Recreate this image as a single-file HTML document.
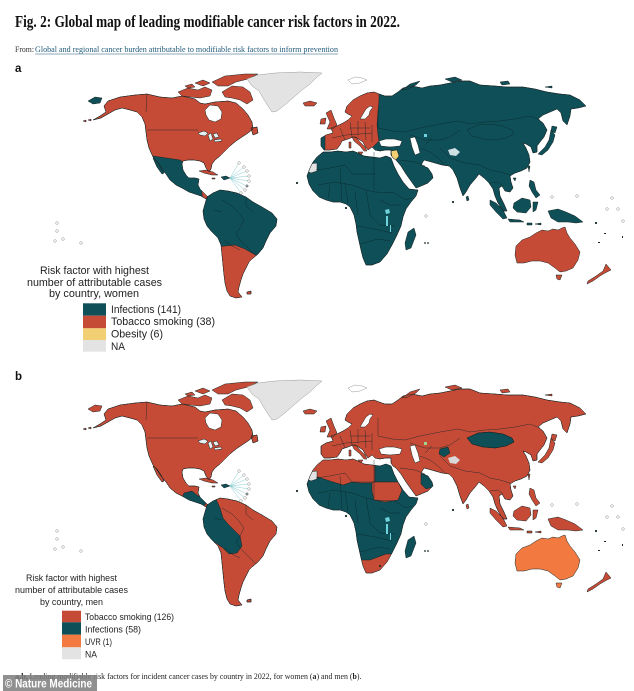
<!DOCTYPE html>
<html><head><meta charset="utf-8"><style>
html,body{margin:0;padding:0;background:#fff;}
svg{display:block;}
</style></head><body>
<svg width="634" height="691" viewBox="0 0 634 691" xmlns="http://www.w3.org/2000/svg" xmlns:xlink="http://www.w3.org/1999/xlink">
<defs>
<path id="NA" d="M93,120 L100,116 L106,112 L104,106 L108,101 L120,97 L135,95 L147,94 L160,97 L172,98 L182,96 L195,99 L200,103 L205,104 L215,102 L228,101 L236,103 L243,109 L248,115 L252,122 L253,129 L248,133 L242,137 L236,141 L230,146 L225,151 L220,156 L215,160 L212,164 L211,169 L209,172 L206,168 L204,163 L200,161 L194,160 L188,160 L183,161 L182,164 L183,170 L186,175 L189,178 L195,178 L199,179 L198,185 L200,189 L204,193 L208,197 L206,199 L201,196 L195,194 L189,192 L182,188 L176,185 L170,180 L166,174 L161,168 L157,162 L153,157 L149,148 L147,140 L146,132 L145,124 L142,117 L137,112 L130,110 L122,108 L115,110 L108,114 L101,118 Z M153,158 L157,161 L161,167 L164,173 L162,174 L157,167 Z M251,128 L257,127 L258,133 L253,135 Z"/>
<path id="ARC" d="M178,92 L188,88 L198,90 L205,87 L212,90 L210,96 L200,98 L190,97 L182,96 Z M212,82 L225,76 L245,74 L258,74 L248,79 L236,82 L228,86 L218,86 Z M222,92 L232,86 L243,87 L250,92 L253,100 L247,104 L240,100 L232,98 L225,97 Z M195,83 L203,80 L210,83 L203,86 Z M185,86 L192,84 L195,87 L188,88 Z M83,121 L86,120 L86,122 Z M88,120 L91,119 L91,121 Z"/>
<path id="GRL" d="M247,79 L258,75 L275,73 L300,72 L322,73 L316,78 L310,84 L302,90 L294,97 L286,104 L277,111 L272,112 L268,106 L263,98 L259,91 L252,86 Z"/>
<path id="ICE" d="M303,103 L310,101 L317,103 L314,106 L305,106 Z"/>
<path id="CHU" d="M88,101 L95,97 L102,98 L100,103 L93,104 Z"/>
<path id="SA" d="M207,197 L213,193 L220,190 L228,191 L237,193 L246,197 L253,202 L262,207 L272,213 L277,219 L276,226 L270,233 L266,241 L263,248 L258,254 L252,259 L249,262 L246,268 L243,274 L241,280 L239,287 L238,292 L242,297 L236,298 L230,296 L227,291 L225,283 L224,275 L223,265 L222,255 L221,245 L218,238 L212,232 L207,226 L204,219 L203,211 L205,204 Z M247,292 L251,291 L251,294 L247,294 Z"/>
<path id="EA" d="M321,138 L326,135 L333,133 L331,128 L337,126 L343,123 L348,120 L352,116 L348,114 L345,112 L347,106 L353,100 L360,96 L367,93 L374,92 L379,94 L385,96 L392,96 L398,92 L403,88 L412,86 L422,88 L430,86 L440,85 L450,83 L460,81 L470,81 L480,85 L495,86 L507,87 L523,87 L535,89 L547,92 L560,94 L570,95 L580,100 L586,106 L578,108 L571,109 L570,116 L567,125 L563,121 L561,113 L557,109 L550,112 L543,115 L538,119 L543,123 L547,130 L544,137 L540,142 L537,146 L537,152 L533,153 L531,147 L526,144 L523,143 L526,148 L529,155 L530,162 L527,168 L521,171 L515,173 L510,176 L511,182 L513,188 L510,192 L505,191 L502,186 L499,188 L500,196 L504,204 L507,211 L503,211 L498,203 L495,196 L493,189 L489,183 L484,178 L479,174 L476,178 L470,185 L466,192 L463,196 L460,188 L457,178 L453,170 L449,166 L442,165 L435,163 L428,161 L424,160 L421,165 L428,168 L432,174 L433,178 L428,183 L421,186 L416,188 L411,181 L406,174 L401,166 L396,160 L393,158 L391,155 L391,150 L386,150 L380,151 L375,150 L372,147 L368,150 L365,146 L363,142 L357,138 L353,137 L348,139 L342,141 L340,145 L337,149 L330,150 L324,150 L321,146 Z"/>
<path id="ITA" d="M352,137 L356,137 L360,142 L365,147 L367,151 L364,151 L360,146 L354,141 Z M358,152 L363,152 L361,155 Z M349,142 L351,142 L351,148 L349,148 Z"/>
<path id="UK" d="M326,113 L331,110 L334,118 L337,125 L333,129 L327,129 L330,122 Z M321,119 L326,118 L325,124 L320,124 Z"/>
<path id="AF" d="M317,157 L323,152 L330,152 L338,151 L346,152 L353,151 L358,153 L364,156 L372,157 L380,158 L386,156 L391,158 L394,166 L398,174 L403,182 L409,189 L418,190 L416,196 L411,202 L406,209 L403,217 L401,226 L397,235 L392,245 L387,254 L380,262 L372,265 L366,265 L363,258 L361,250 L359,241 L357,232 L356,224 L354,215 L350,207 L346,204 L340,202 L333,202 L326,200 L319,197 L313,191 L309,184 L307,176 L310,168 L313,162 Z"/>
<path id="MAD" d="M408,232 L414,228 L416,235 L411,248 L406,250 L405,243 Z"/>
<path id="ISL" d="M551,130 L555,135 L553,142 L548,150 L542,155 L538,154 L545,147 L549,140 Z M552,126 L557,127 L555,133 L551,131 Z M466,197 L468,196 L469,200 L467,201 Z M528,166 L530,166 L529,172 Z M513,178 L516,178 L515,181 Z M530,180 L534,182 L536,190 L540,195 L536,198 L532,192 L529,186 Z M490,200 L496,203 L503,210 L507,218 L503,219 L496,212 L490,205 Z M508,219 L520,220 L524,222 L510,222 Z M514,203 L522,198 L530,200 L531,207 L526,213 L517,212 L513,208 Z M533,202 L538,202 L536,210 L533,212 Z M548,211 L558,209 L566,212 L575,216 L583,222 L576,223 L568,222 L558,222 L551,218 Z M527,223 L532,223 L532,225 L527,225 Z M535,224 L541,223 L541,225 Z M402,90 L410,84 L420,81 L416,85 L408,89 Z M445,79 L455,77 L462,80 L452,82 Z M500,82 L508,81 L510,84 L502,85 Z M545,87 L552,86 L552,88 Z"/>
<path id="AUS" d="M516,246 L522,240 L530,237 L536,233 L542,230 L548,231 L553,229 L558,230 L562,228 L565,227 L567,233 L570,238 L575,244 L580,252 L578,260 L573,268 L566,271 L560,272 L555,268 L548,263 L540,261 L532,261 L524,263 L517,263 L515,255 Z M556,275 L562,275 L560,280 L557,279 Z"/>
<path id="NZ" d="M606,264 L611,270 L605,273 L600,276 L593,281 L587,284 L588,281 L596,276 L603,271 Z"/>
<path id="CUBA" d="M199,171 L206,170 L213,172 L218,175 L212,175 L204,173 Z M212,178 L215,178 L215,179 L212,179 Z"/>
<path id="HISP" d="M221,177 L226,176 L230,178 L224,180 Z"/>
<path id="HOLES" d="M205,110 L210,105 L218,106 L222,112 L221,119 L215,122 L209,120 L206,115 Z M360,119 L363,114 L366,109 L370,106 L373,107 L370,111 L369,115 L365,119 Z M379,141 L386,139 L394,139 L402,141 L400,146 L390,147 L381,146 Z M410,138 L415,137 L418,145 L420,153 L415,155 L412,147 Z"/>
<path id="GLAKES" d="M198,133 L204,131 L208,133 L205,136 L200,135 Z M208,135 L211,133 L213,139 L210,141 Z M213,134 L217,133 L219,137 L215,138 Z M214,140 L221,139 L222,141 L215,142 Z"/>
<path id="BORD" d="M147,94 L146,112 M147,130 L198,130 M222,200 L232,206 L238,212 L244,220 L240,228 L236,234 L240,240 L248,248 L256,256 M214,210 L222,212 M246,197 L246,206 L253,212 M224,240 L232,246 L240,250 M316,170 L330,168 L345,165 L352,174 L375,174 M374,152 L374,190 M318,185 L335,182 L352,185 L366,190 L375,192 L395,193 M340,168 L342,201 M355,192 L358,215 M366,190 L370,215 L380,225 L395,226 M357,226 L375,229 L392,233 M360,244 L378,239 L390,241 M395,193 L405,200 L412,198 M380,200 L390,205 L400,205 M330,185 L328,199 M345,183 L348,203 M378,128 L392,131 L405,132 L420,128 L440,124 L458,121 L470,124 L485,122 L500,121 L515,119 L530,116 L540,120 M410,135 L425,140 L440,140 L450,137 L460,130 M440,148 L450,158 L465,163 L480,165 L490,170 L500,172 L510,175 M420,148 L430,152 L438,158 L445,165 M400,160 L415,162 L425,166 M467,130 L478,125 L490,124 L503,126 L512,130 L514,134 L506,138 L495,140 L483,139 L472,136 Z M490,183 L498,182 L503,186 M340,128 L345,140 M350,122 L352,137 M358,121 L358,135 M365,122 L366,140 M372,125 L372,142 M332,138 L346,135 L360,134 L372,133 M350,128 L370,128 M378,110 L378,128 M425,145 L432,138"/>
<clipPath id="cNA"><use xlink:href="#NA"/></clipPath>
<clipPath id="cSA"><use xlink:href="#SA"/></clipPath>
<clipPath id="cEA"><use xlink:href="#EA"/></clipPath>
<clipPath id="cAF"><use xlink:href="#AF"/></clipPath>
<g id="DOTS">
 <g stroke="#7cc6cf" stroke-width="0.45">
  <path d="M230,178 L239,163 M230,178 L244,167 M230,178 L247,171 M230,178 L249,176 M230,178 L249,181 M230,178 L247,186 M230,178 L245,190 M230,178 L241,193"/>
 </g>
 <g fill="#fff" stroke="#8a8a8a" stroke-width="0.5">
  <circle cx="239" cy="163" r="1.3"/><circle cx="244" cy="167" r="1.3"/><circle cx="247" cy="171" r="1.3"/><circle cx="249" cy="176" r="1.3"/><circle cx="249" cy="181" r="1.3"/><circle cx="247" cy="186" r="1.3"/><circle cx="245" cy="190" r="1.3"/><circle cx="241" cy="193" r="1.3"/>
  <circle cx="57" cy="223" r="1.3"/><circle cx="57" cy="231" r="1.3"/><circle cx="55" cy="241" r="1.3"/><circle cx="63" cy="239" r="1.3"/><circle cx="81" cy="243" r="1.3"/>
  <circle cx="552" cy="197" r="1.3"/><circle cx="577" cy="196" r="1.3"/><circle cx="612" cy="198" r="1.3"/><circle cx="607" cy="209" r="1.3"/><circle cx="618" cy="209" r="1.3"/><circle cx="623" cy="221" r="1.3"/><circle cx="426" cy="216" r="1.3"/>
 </g>
 <g fill="#1a2a2a">
  <circle cx="297" cy="183" r="1.1"/><circle cx="346" cy="208" r="1.1"/><circle cx="453" cy="202" r="1.1"/><circle cx="596" cy="223" r="1.1"/><circle cx="425" cy="243" r="0.9"/><circle cx="428" cy="243" r="0.9"/><circle cx="247" cy="186" r="0.8"/>
  <rect x="604" y="233" width="2" height="1"/><rect x="598" y="242" width="2" height="1"/><rect x="622" y="236" width="1" height="2"/>
 </g>
</g>
</defs>

<!-- Header -->
<text x="15" y="27" font-family="Liberation Serif, serif" font-weight="bold" font-size="17" fill="#111" textLength="385" lengthAdjust="spacingAndGlyphs">Fig. 2: Global map of leading modifiable cancer risk factors in 2022.</text>
<text x="15" y="52" font-family="Liberation Serif, serif" font-size="8.5" fill="#333" textLength="19" lengthAdjust="spacingAndGlyphs">From:</text>
<text x="35" y="52" font-family="Liberation Serif, serif" font-size="8.5" fill="#1e5878" textLength="303" lengthAdjust="spacingAndGlyphs">Global and regional cancer burden attributable to modifiable risk factors to inform prevention</text>
<line x1="35" y1="54" x2="338" y2="54" stroke="#1e5878" stroke-width="0.6"/>
<text x="15" y="72" font-family="Liberation Sans, sans-serif" font-weight="bold" font-size="11.5" fill="#111">a</text>
<text x="15" y="380" font-family="Liberation Sans, sans-serif" font-weight="bold" font-size="11.5" fill="#111">b</text>

<!-- MAP A (women) -->
<g stroke="#1a2424" stroke-width="0.5" stroke-linejoin="round">
 <use xlink:href="#NA" fill="#c64b36"/>
 <g clip-path="url(#cNA)"><path d="M140,155 L153,156 L180,160 L183,162 L200,176 L203,202 L140,202 Z" fill="#0e4f58"/></g>
 <use xlink:href="#ARC" fill="#c64b36"/>
 <use xlink:href="#GRL" fill="#e3e3e3" stroke="#9a9a9a"/>
 <use xlink:href="#ICE" fill="#c64b36"/>
 <use xlink:href="#CHU" fill="#0e4f58"/>
 <use xlink:href="#SA" fill="#0e4f58"/>
 <g clip-path="url(#cSA)"><path d="M215,247 L235,245 L245,249 L252,253 L258,256 L260,270 L250,302 L215,302 Z" fill="#c64b36"/></g>
 <use xlink:href="#CUBA" fill="#c64b36"/>
 <use xlink:href="#HISP" fill="#0e4f58"/>
 <use xlink:href="#EA" fill="#0e4f58"/>
 <g clip-path="url(#cEA)">
  <path d="M310,84 L379,84 L379,100 L378,112 L377,125 L378,135 L379,141 L373,147 L362,158 L310,158 Z" fill="#c64b36"/>
  <path d="M316,134 L325,134 L325,152 L316,152 Z" fill="#0e4f58"/>
  <path d="M391,151 L397,150 L399,156 L395,161 L392,158 Z" fill="#f2cf73"/>
 </g>
 <use xlink:href="#ITA" fill="#c64b36"/>
 <use xlink:href="#UK" fill="#c64b36"/>
 <use xlink:href="#AF" fill="#0e4f58"/>
 <g clip-path="url(#cAF)"><path d="M308,164 L317,163 L317,171 L311,173 L307,171 Z" fill="#e3e3e3"/></g>
 <use xlink:href="#MAD" fill="#0e4f58"/>
 <use xlink:href="#ISL" fill="#0e4f58"/>
 <use xlink:href="#AUS" fill="#c64b36"/>
 <use xlink:href="#NZ" fill="#c64b36"/>
 <use xlink:href="#HOLES" fill="#fff"/>
 <use xlink:href="#GLAKES" fill="#e6eff1"/>
 <path d="M348,80 L355,77 L362,78 L367,80 L360,83 L352,84 Z" fill="#fff" stroke="#999"/>
 <use xlink:href="#BORD" fill="none" stroke="#0b2427" stroke-width="0.4"/>
 <use xlink:href="#NA" fill="none"/><use xlink:href="#SA" fill="none"/><use xlink:href="#EA" fill="none"/><use xlink:href="#AF" fill="none"/>
 <path d="M385,210 L389,209 L390,213 L386,214 Z M386,216 L388,216 L388,226 L386,226 Z M390,225 L391,225 L391,232 L390,232 Z M424,134 L427,134 L427,137 L424,137 Z" fill="#6fd3dd" stroke="none"/>
 <path d="M448,150 L455,148 L460,152 L456,156 L450,155 Z" fill="#cfe0e3" stroke="none"/>
</g>
<use xlink:href="#DOTS"/>

<!-- MAP B (men) -->
<g transform="translate(0,308)">
<g stroke="#1a2424" stroke-width="0.5" stroke-linejoin="round">
 <use xlink:href="#NA" fill="#c64b36"/>
 <g clip-path="url(#cNA)"><path d="M184,185 L192,183 L197,187 L203,191 L206,196 L200,200 L190,196 L182,190 Z" fill="#0e4f58"/></g>
 <use xlink:href="#ARC" fill="#c64b36"/>
 <use xlink:href="#GRL" fill="#e3e3e3" stroke="#9a9a9a"/>
 <use xlink:href="#ICE" fill="#c64b36"/>
 <use xlink:href="#CHU" fill="#c64b36"/>
 <use xlink:href="#SA" fill="#c64b36"/>
 <g clip-path="url(#cSA)"><path d="M198,190 L216,191 L220,200 L223,210 L228,216 L234,222 L240,228 L242,238 L237,245 L229,246 L223,240 L213,233 L198,226 Z" fill="#0e4f58"/></g>
 <use xlink:href="#CUBA" fill="#c64b36"/>
 <use xlink:href="#HISP" fill="#0e4f58"/>
 <use xlink:href="#EA" fill="#c64b36"/>
 <g clip-path="url(#cEA)">
  <path d="M467,130 L478,125 L490,124 L503,126 L512,130 L514,134 L506,138 L495,140 L483,139 L472,136 Z" fill="#0e4f58"/>
  <path d="M440,141 L448,139 L450,145 L444,149 L439,146 Z" fill="#0e4f58"/>
  <path d="M421,166 L430,168 L434,173 L433,179 L426,181 L421,176 Z" fill="#0e4f58"/>
 </g>
 <use xlink:href="#ITA" fill="#c64b36"/>
 <use xlink:href="#UK" fill="#c64b36"/>
 <use xlink:href="#AF" fill="#0e4f58"/>
 <g clip-path="url(#cAF)">
  <path d="M300,145 L375,145 L375,175 L360,175 L352,174 L343,177 L333,174 L318,169 L300,171 Z" fill="#c64b36"/>
  <path d="M375,150 L400,150 L400,174 L375,174 Z" fill="#0e4f58"/>
  <path d="M372,174 L398,174 L402,182 L398,192 L385,194 L374,192 L372,183 Z" fill="#c64b36"/>
  <path d="M358,252 L370,252 L378,249 L386,246 L394,246 L394,256 L385,265 L370,268 L358,268 Z" fill="#c64b36"/>
  <path d="M308,164 L317,163 L317,171 L311,173 L307,171 Z" fill="#e3e3e3"/>
 </g>
 <use xlink:href="#MAD" fill="#0e4f58"/>
 <use xlink:href="#ISL" fill="#c64b36"/>
 <use xlink:href="#AUS" fill="#f27a41"/>
 <use xlink:href="#NZ" fill="#c64b36"/>
 <use xlink:href="#HOLES" fill="#fff"/>
 <use xlink:href="#GLAKES" fill="#e6eff1"/>
 <path d="M348,80 L355,77 L362,78 L367,80 L360,83 L352,84 Z" fill="#fff" stroke="#999"/>
 <use xlink:href="#BORD" fill="none" stroke="#0b2427" stroke-width="0.4"/>
 <use xlink:href="#NA" fill="none"/><use xlink:href="#SA" fill="none"/><use xlink:href="#EA" fill="none"/><use xlink:href="#AF" fill="none"/>
 <path d="M385,210 L389,209 L390,213 L386,214 Z M386,216 L388,216 L388,226 L386,226 Z M390,225 L391,225 L391,232 L390,232 Z" fill="#6fd3dd" stroke="none"/>
 <path d="M424,134 L427,134 L427,137 L424,137 Z" fill="#9fd58a" stroke="none"/>
 <path d="M448,150 L455,148 L460,152 L456,156 L450,155 Z" fill="#d8d8d8" stroke="none"/>
 <circle cx="380" cy="258" r="1" fill="#1a2424" stroke="none"/>
</g>
<use xlink:href="#DOTS"/>
</g>

<!-- Legend A -->
<g font-family="Liberation Sans, sans-serif" fill="#222">
 <text x="40" y="274" font-size="11" textLength="109" lengthAdjust="spacingAndGlyphs">Risk factor with highest</text>
 <text x="27" y="286" font-size="11" textLength="135" lengthAdjust="spacingAndGlyphs">number of attributable cases</text>
 <text x="49" y="297" font-size="11" textLength="90" lengthAdjust="spacingAndGlyphs">by country, women</text>
 <rect x="83" y="303.3" width="23" height="12.4" fill="#0e4f58"/>
 <rect x="83" y="315.7" width="23" height="12.6" fill="#c64b36"/>
 <rect x="83" y="328.3" width="23" height="11.7" fill="#f2cf73"/>
 <rect x="83" y="340" width="23" height="11.7" fill="#e3e3e3"/>
 <text x="111" y="313" font-size="11" textLength="70" lengthAdjust="spacingAndGlyphs">Infections (141)</text>
 <text x="111" y="325" font-size="11" textLength="104" lengthAdjust="spacingAndGlyphs">Tobacco smoking (38)</text>
 <text x="111" y="337.5" font-size="11" textLength="52" lengthAdjust="spacingAndGlyphs">Obesity (6)</text>
 <text x="111" y="350" font-size="11" textLength="14" lengthAdjust="spacingAndGlyphs">NA</text>
</g>

<!-- Legend B -->
<g font-family="Liberation Sans, sans-serif" fill="#222">
 <text x="26" y="581" font-size="9.5" textLength="91" lengthAdjust="spacingAndGlyphs">Risk factor with highest</text>
 <text x="15" y="593" font-size="9.5" textLength="113" lengthAdjust="spacingAndGlyphs">number of attributable cases</text>
 <text x="40" y="605" font-size="9.5" textLength="63" lengthAdjust="spacingAndGlyphs">by country, men</text>
 <rect x="62" y="610.7" width="19" height="11.6" fill="#c64b36"/>
 <rect x="62" y="622.3" width="19" height="12.4" fill="#0e4f58"/>
 <rect x="62" y="634.7" width="19" height="12.6" fill="#f27a41"/>
 <rect x="62" y="647.3" width="19" height="12" fill="#e3e3e3"/>
 <text x="85" y="620" font-size="9.5" textLength="89" lengthAdjust="spacingAndGlyphs">Tobacco smoking (126)</text>
 <text x="85" y="632.5" font-size="9.5" textLength="56" lengthAdjust="spacingAndGlyphs">Infections (58)</text>
 <text x="85" y="645" font-size="9.5" textLength="27" lengthAdjust="spacingAndGlyphs">UVR (1)</text>
 <text x="85" y="657.5" font-size="9.5" textLength="12" lengthAdjust="spacingAndGlyphs">NA</text>
</g>

<!-- Caption -->
<text x="15" y="679" font-family="Liberation Serif, serif" font-weight="bold" font-size="8.5" fill="#222" textLength="13" lengthAdjust="spacingAndGlyphs">a,b,</text>
<text x="29.5" y="679" font-family="Liberation Serif, serif" font-size="8.5" fill="#222" textLength="332" lengthAdjust="spacingAndGlyphs">Leading modifiable risk factors for incident cancer cases by country in 2022, for women (<tspan font-weight="bold">a</tspan>) and men (<tspan font-weight="bold">b</tspan>).</text>

<!-- Watermark -->
<rect x="3" y="675" width="94" height="16" fill="#7d7d7d" fill-opacity="0.85"/>
<text x="5" y="687.5" font-family="Liberation Sans, sans-serif" font-weight="bold" font-size="12" fill="#fff" textLength="87" lengthAdjust="spacingAndGlyphs">© Nature Medicine</text>
</svg>
</body></html>
